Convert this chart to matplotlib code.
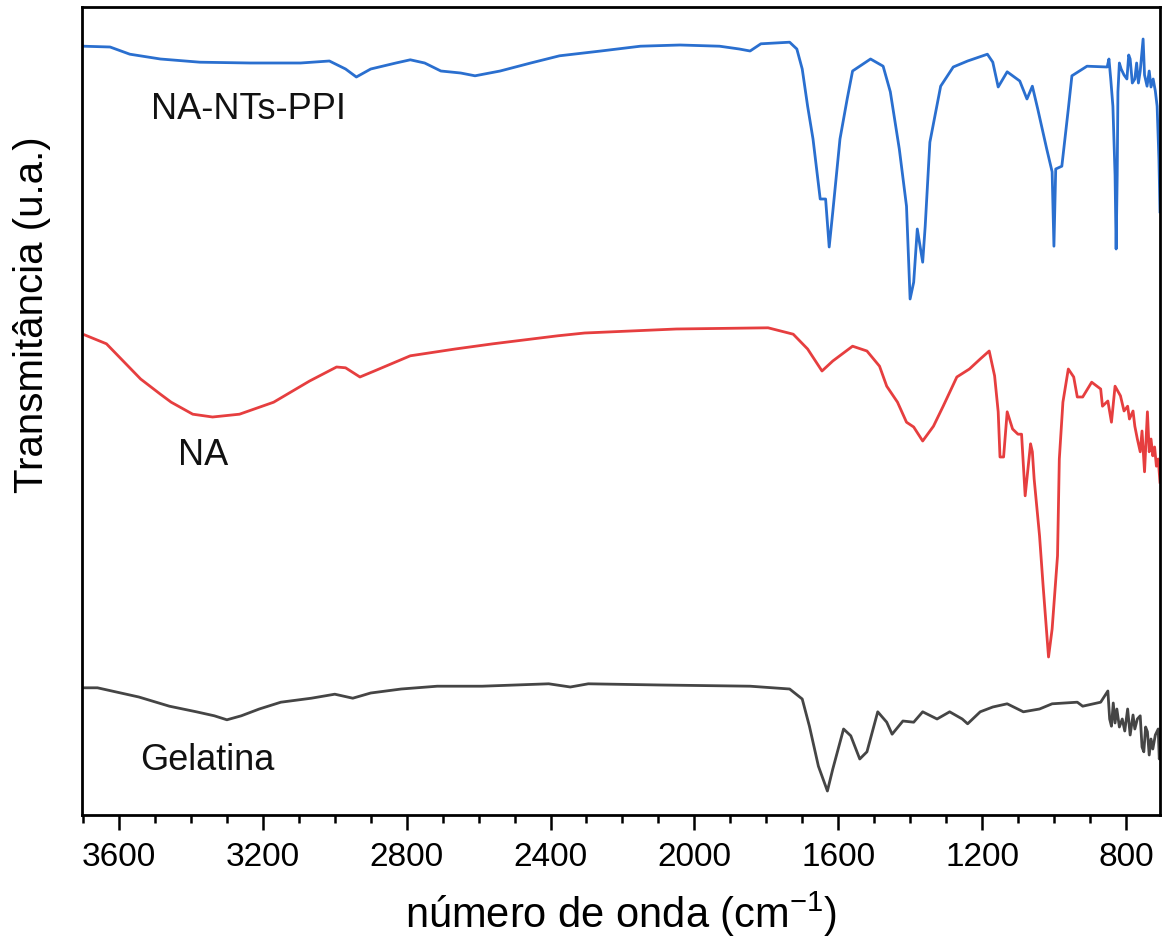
import matplotlib
matplotlib.use("Agg")
import matplotlib.pyplot as plt
from matplotlib.ticker import MultipleLocator

plt.rcParams['font.family'] = ['Liberation Sans', 'DejaVu Sans']

# ---- data (wavenumber cm^-1, transmittance a.u. with vertical offsets) ----
ppi_wn = [3700, 3625, 3570, 3485, 3375, 3235, 3095, 3015, 2970, 2940, 2900, 2830, 2790,
          2750, 2705, 2650, 2610, 2540, 2455, 2375, 2260, 2150, 2040, 1930, 1875, 1845,
          1815, 1735, 1715, 1700, 1685, 1670, 1650, 1635, 1625, 1615, 1595, 1575, 1560,
          1510, 1475, 1455, 1430, 1410, 1400, 1390, 1380, 1365, 1358, 1345, 1315, 1280,
          1240, 1185, 1170, 1155, 1130, 1095, 1075, 1060, 1045, 1020, 1005, 1000, 995,
          978, 960, 950, 908, 852, 847, 842, 836, 830, 827, 824, 822, 818, 813, 805, 797,
          792, 788, 782, 775, 770, 765, 760, 752, 748, 741, 735, 730, 724, 718, 713, 708, 705]
ppi_t = [96.1, 96.0, 95.1, 94.5, 94.1, 94.0, 94.0, 94.25, 93.25, 92.25, 93.25, 94.0, 94.4,
         94.0, 93.0, 92.75, 92.4, 93.0, 94.0, 94.9, 95.5, 96.1, 96.25, 96.1, 95.75, 95.5,
         96.4, 96.6, 95.75, 93.25, 88.6, 84.5, 77.0, 77.0, 71.0, 75.4, 84.5, 89.5, 93.0,
         94.5, 93.6, 90.4, 83.25, 76.1, 64.5, 66.6, 73.25, 69.1, 73.6, 84.1, 91.1, 93.5,
         94.25, 95.1, 94.1, 91.0, 92.9, 91.75, 89.5, 91.1, 88.25, 83.25, 80.4, 71.1, 80.75,
         81.1, 88.25, 92.4, 93.6, 93.5, 94.5, 92.0, 88.6, 80.0, 70.75, 80.0, 90.4, 94.0, 93.25, 92.5, 92.0,
         95.0, 94.5, 91.5, 92.0, 94.0, 91.5, 93.0, 97.0, 92.5, 91.1, 93.0, 91.0, 92.0, 90.5, 88.6, 82.0, 75.4]

na_wn = [3695, 3635, 3540, 3485, 3455, 3395, 3340, 3265, 3170, 3070, 2995, 2970, 2930,
         2890, 2790, 2665, 2560, 2380, 2305, 2050, 1795, 1760, 1725, 1685, 1645, 1615,
         1560, 1520, 1485, 1465, 1435, 1410, 1390, 1365, 1335, 1308, 1270, 1235, 1205,
         1180, 1165, 1155, 1150, 1140, 1130, 1115, 1100, 1090, 1080, 1065, 1060, 1055,
         1040, 1030, 1015, 1005, 990, 985, 975, 960, 945, 935, 920, 895, 870, 865, 850,
         840, 830, 815, 805, 795, 790, 780, 775, 768, 760, 755, 748, 740, 735, 730, 725,
         720, 715, 710, 705]
na_t = [60.0, 58.9, 54.5, 52.6, 51.6, 50.1, 49.75, 50.1, 51.6, 54.25, 56.0, 55.9, 54.75,
        55.5, 57.4, 58.25, 58.9, 59.9, 60.25, 60.75, 60.9, 60.5, 60.1, 58.25, 55.5, 56.75,
        58.6, 58.0, 56.1, 53.6, 51.6, 49.1, 48.5, 46.75, 48.6, 51.1, 54.75, 55.75, 57.0,
        58.0, 54.9, 50.4, 44.75, 44.75, 50.4, 48.25, 47.6, 47.6, 39.9, 46.4, 45.4, 42.0,
        34.9, 28.6, 19.75, 23.25, 32.4, 44.5, 51.6, 55.75, 54.75, 52.25, 52.25, 54.1, 53.25,
        51.1, 51.75, 49.1, 53.6, 52.4, 50.5, 51.1, 49.5, 50.5, 48.6, 47.0, 45.4, 48.0,
        42.9, 50.4, 45.4, 47.0, 44.9, 46.0, 43.6, 44.5, 41.6]

gel_wn = [3700, 3660, 3610, 3545, 3460, 3385, 3335, 3300, 3260, 3210, 3150, 3065, 3000,
          2950, 2900, 2815, 2715, 2590, 2405, 2345, 2295, 2095, 1845, 1735, 1700, 1680,
          1655, 1630, 1615, 1585, 1565, 1540, 1520, 1490, 1465, 1450, 1420, 1390, 1365,
          1325, 1290, 1255, 1240, 1205, 1170, 1130, 1085, 1040, 1005, 935, 920, 870, 850,
          845, 840, 835, 830, 825, 818, 810, 803, 795, 788, 780, 775, 768, 760, 755, 750,
          745, 740, 735, 730, 725, 718, 710, 707, 705]
gel_t = [15.9, 15.9, 15.4, 14.75, 13.6, 12.9, 12.4, 11.9, 12.4, 13.25, 14.1, 14.6, 15.1,
         14.6, 15.25, 15.75, 16.1, 16.1, 16.4, 16.0, 16.4, 16.25, 16.1, 15.75, 14.5, 11.1,
         6.1, 3.0, 5.75, 10.75, 9.9, 7.0, 7.9, 12.9, 11.6, 10.1, 11.75, 11.6, 12.9,
         12.0, 12.9, 12.0, 11.4, 12.9, 13.5, 13.9, 12.9, 13.25, 13.9, 14.1, 13.6, 14.1, 15.5,
         12.0, 11.1, 14.0, 11.5, 13.25, 11.0, 12.0, 10.5, 13.25, 10.0, 12.5, 10.75, 12.0,
         12.4, 8.5, 7.9, 11.0, 10.4, 7.5, 9.5, 8.25, 10.0, 10.75, 7.0, 8.5]

labels = ["NA-NTs-PPI", "NA", "Gelatina"]
label_wn = [3241, 3366, 3355]
label_t = [88.25, 45.1, 6.9]

x_ticks_major = [3600, 3200, 2800, 2400, 2000, 1600, 1200, 800]

# ---- figure ----
fig = plt.figure(figsize=(11.65, 9.45), dpi=100)
ax = fig.add_axes([82/1165, 1-816/945, (1160-82)/1165, (816-8)/945])

ax.plot(ppi_wn, ppi_t, color="#2a6fcf", lw=2.0)
ax.plot(na_wn, na_t, color="#e63e3f", lw=2.0)
ax.plot(gel_wn, gel_t, color="#454545", lw=2.0)

for lab, xw, yt in zip(labels, label_wn, label_t):
    ax.text(xw, yt, lab, ha="center", va="center", fontsize=26, color="#111111")

ax.set_xlim(3703, 705)
ax.set_ylim(0, 101)
ax.set_xticks(x_ticks_major)
ax.xaxis.set_minor_locator(MultipleLocator(100))
ax.set_yticks([])
ax.tick_params(axis="x", which="major", direction="out", length=11, width=1.8,
               labelsize=24, pad=8)
ax.tick_params(axis="x", which="minor", direction="out", length=6, width=1.8)
for sp in ax.spines.values():
    sp.set_linewidth(2.0)

ax.set_xlabel("número de onda (cm$^{\\mathregular{-1}}$)", fontsize=30, labelpad=12)
fig.text(32/1165, 1-315/945, "Transmitância (u.a.)", rotation=90, fontsize=29,
         ha="center", va="center")

fig.savefig("out.png", dpi=100)
